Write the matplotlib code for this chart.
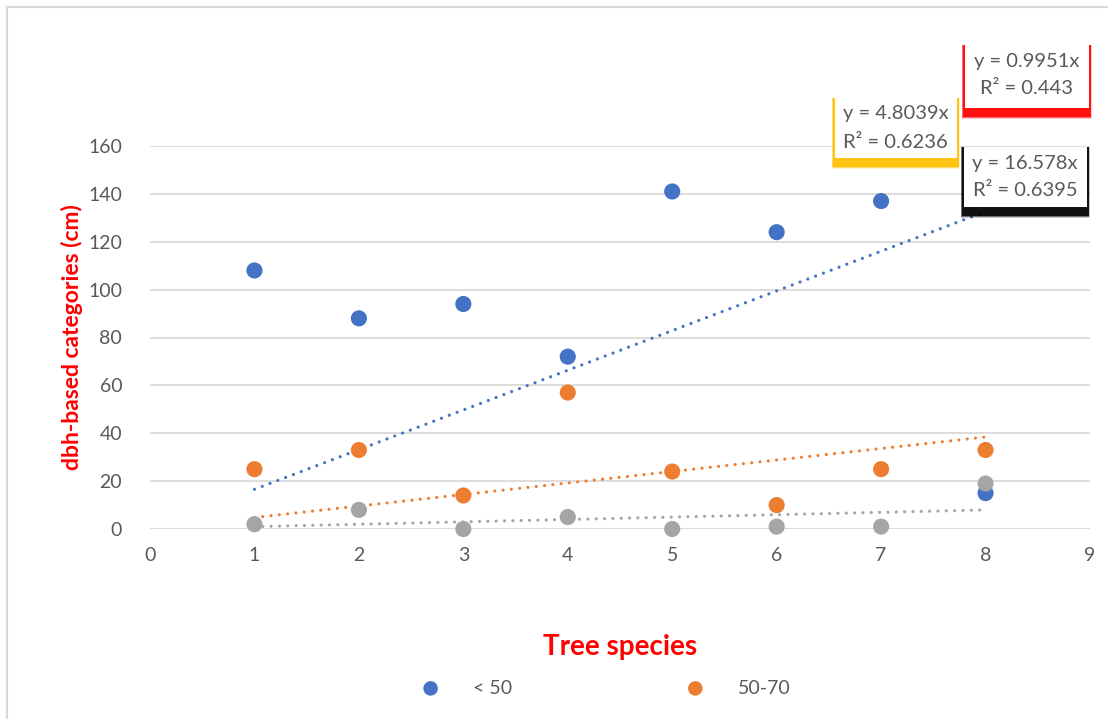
import matplotlib
matplotlib.use("Agg")
import matplotlib.pyplot as plt
from matplotlib.lines import Line2D
from matplotlib.patches import Rectangle
import numpy as np

plt.rcParams['font.family'] = ['Lato', 'DejaVu Sans']

# Tree species index and counts per dbh class
species = [1, 2, 3, 4, 5, 6, 7, 8]
under_50 = [108, 88, 94, 72, 141, 124, 137, 15]
from_50_70 = [25, 33, 14, 57, 24, 10, 25, 33]
over_70 = [2, 8, 0, 5, 0, 1, 1, 19]

series_names = ["< 50", "50-70", "> 70"]
series_colors = ["#4472C4", "#ED7D31", "#A5A5A5"]

x_ticks = list(range(0, 10))
y_ticks = list(range(0, 161, 20))

W, H = 1108, 719
fig = plt.figure(figsize=(W / 100, H / 100), dpi=100)

def fx(px):
    return px / W

def fy(py):
    return 1 - py / H

ax = fig.add_axes([fx(150), fy(529), fx(1090) - fx(150), fy(146) - fy(529)])
ax.set_xlim(0, 9)
ax.set_ylim(0, 160)
ax.set_xticks(x_ticks)
ax.set_yticks(y_ticks)
ax.tick_params(length=0, labelsize=14, labelcolor="#595959")
ax.tick_params(axis='x', pad=13)
ax.tick_params(axis='y', pad=20)
for s in ax.spines.values():
    s.set_visible(False)
ax.yaxis.grid(True, color="#d9d9d9", lw=1.3)
ax.set_axisbelow(True)

x = np.array(species, dtype=float)
handles = []
fits = []
for vals, name, col in zip([under_50, from_50_70, over_70], series_names, series_colors):
    y = np.array(vals, dtype=float)
    # least-squares line through the origin (uncentred R²)
    slope = (x * y).sum() / (x * x).sum()
    sse = ((y - slope * x) ** 2).sum()
    r2 = 1 - sse / (y ** 2).sum()
    fits.append((slope, r2))
    h = ax.scatter(x, y, s=135, color=col, zorder=3, clip_on=False, label=name,
                   edgecolors='none')
    handles.append(h)

# trendlines drawn over the points' range
for i in [2, 1, 0]:
    slope = fits[i][0]
    ax.plot([x.min(), x.max()], [slope * x.min(), slope * x.max()],
            color=series_colors[i], lw=2.3, linestyle=(0, (0.01, 2.6)),
            dash_capstyle='round', zorder=2, clip_on=False)

ax.set_xlabel("Tree species", color="red", fontsize=20, fontweight='bold', labelpad=50)
ax.set_ylabel("dbh-based categories (cm)", color="red", fontsize=16.5,
              fontweight='bold', labelpad=4)

def fmt_r2(v):
    return f"{v:.4f}".rstrip('0').rstrip('.')

# trendline equation boxes with coloured drop shadows
boxes = [
    (1, (833, 98, 958, 158), "#FFC000"),
    (2, (963, 45, 1090, 108), "#FF0000"),
    (0, (962, 147, 1088, 207), "#000000"),
]
for idx, (x0, y0, x1, y1), shade in boxes:
    for k, a in enumerate([0.2, 0.45, 0.85]):
        grow = 3 - k
        fig.patches.append(Rectangle((fx(x0 - grow * 0.5), fy(y1 + 8 + grow)),
                                     fx(x1 - x0 + grow), fy(y0) - fy(y1 + 8 + grow),
                                     transform=fig.transFigure, facecolor=shade,
                                     edgecolor='none', alpha=a, zorder=4))
    fig.patches.append(Rectangle((fx(x0 + 1.5), fy(y1)), fx(x1 - x0 - 3), fy(y0) - fy(y1),
                                 transform=fig.transFigure, facecolor='white',
                                 edgecolor='none', zorder=5))
    slope, r2 = fits[idx]
    cx = fx((x0 + x1) / 2)
    fig.text(cx, fy(y0 + 16), f"y = {slope:.5g}x", ha='center', va='center',
             fontsize=14.5, color="#595959", zorder=6)
    fig.text(cx, fy(y0 + 44), f"R² = {fmt_r2(r2)}", ha='center', va='center',
             fontsize=14.5, color="#595959", zorder=6)

fig.legend(handles=handles[:2], labels=series_names[:2], loc='center',
           bbox_to_anchor=(fx(601), fy(688)), ncol=2, frameon=False,
           fontsize=14, labelcolor="#595959", handletextpad=1.2,
           columnspacing=8.4, markerscale=0.9)

# chart area border
fig.add_artist(Line2D([fx(7), fx(7)], [fy(7), 0], color="#d9d9d9", lw=1.5,
                      transform=fig.transFigure))
fig.add_artist(Line2D([fx(7), 1], [fy(7), fy(7)], color="#d9d9d9", lw=1.5,
                      transform=fig.transFigure))

fig.savefig("out.png", dpi=100)
